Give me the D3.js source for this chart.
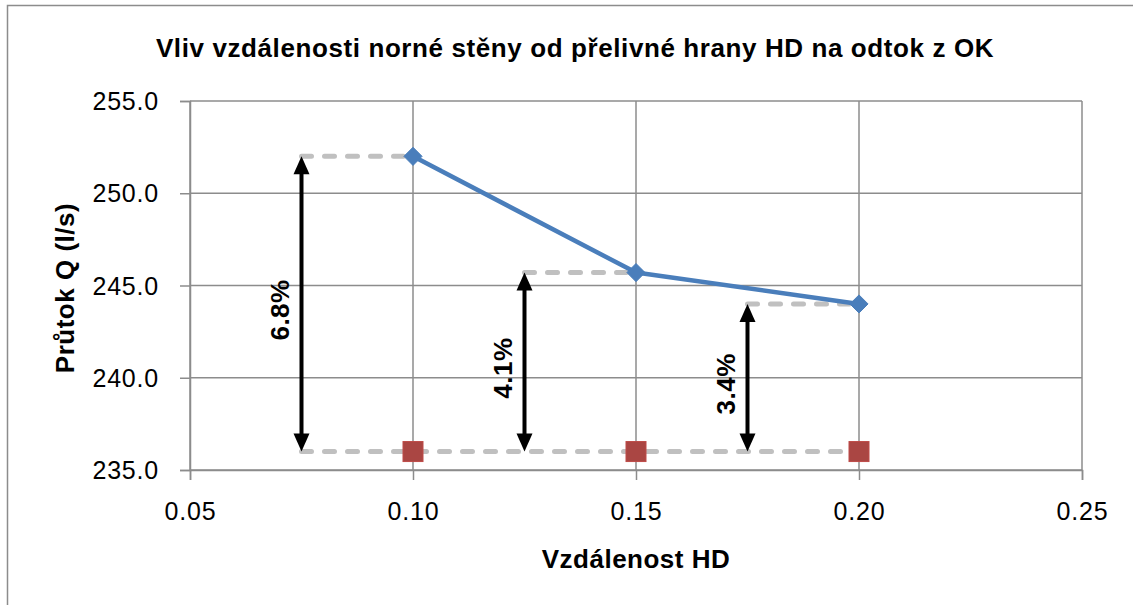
<!DOCTYPE html>
<html>
<head>
<meta charset="utf-8">
<script src="https://cdn.jsdelivr.net/npm/d3@7"></script>
<style>
  html, body { margin: 0; padding: 0; background: #fff; }
  svg { display: block; font-family: "Liberation Sans", Arial, sans-serif; }
</style>
</head>
<body>
<svg id="chart" width="1133" height="605"></svg>
<script>
// Distance of the weir wall from the overflow edge (HD) and resulting discharge
const distances = [0.10, 0.15, 0.20];
const flowMeasured = [252.0, 245.7, 244.0];
const flowReference = [236.0, 236.0, 236.0];
const percentLabels = ["6.8%", "4.1%", "3.4%"];
const xTicks = [0.05, 0.10, 0.15, 0.20, 0.25];
const yTicks = [235, 240, 245, 250, 255];

const titleText = "Vliv vzdálenosti norné stěny od přelivné hrany HD na odtok z OK";
const xTitle = "Vzdálenost HD";
const yTitle = "Průtok Q (l/s)";

const svg = d3.select("#chart");
const plot = { left: 190, top: 101, right: 1082, bottom: 470 };

const x = d3.scaleLinear().domain([0.05, 0.25]).range([plot.left, plot.right]);
const y = d3.scaleLinear().domain([235, 255]).range([plot.bottom, plot.top]);

// outer chart frame
svg.append("rect")
  .attr("x", 7.5).attr("y", 5.5).attr("width", 1140).attr("height", 620)
  .attr("fill", "#fff").attr("stroke", "#8c8c8c").attr("stroke-width", 1.5);

// title
svg.append("text")
  .attr("x", 575).attr("y", 57)
  .attr("text-anchor", "middle")
  .attr("font-size", 26).attr("font-weight", "bold").attr("fill", "#000")
  .attr("letter-spacing", 0.6)
  .text(titleText);

// gridlines
const grid = svg.append("g").attr("stroke", "#8c8c8c").attr("stroke-width", 1.5);
grid.selectAll(".hg").data(yTicks).join("line")
  .attr("x1", plot.left).attr("x2", plot.right)
  .attr("y1", d => y(d)).attr("y2", d => y(d));
grid.selectAll(".vg").data(xTicks).join("line")
  .attr("y1", plot.top).attr("y2", plot.bottom)
  .attr("x1", d => x(d)).attr("x2", d => x(d));

// axes
const yAxis = d3.axisLeft(y).tickValues(yTicks).tickFormat(d3.format(".1f"))
  .tickSize(10).tickPadding(21);
const xAxis = d3.axisBottom(x).tickValues(xTicks).tickFormat(d3.format(".2f"))
  .tickSize(10).tickPadding(22);

const gy = svg.append("g").attr("transform", `translate(${plot.left},0)`).call(yAxis);
const gx = svg.append("g").attr("transform", `translate(0,${plot.bottom})`).call(xAxis);
[gx, gy].forEach(g => {
  g.select(".domain").attr("stroke", "#8c8c8c").attr("stroke-width", 1.5);
  g.selectAll(".tick line").attr("stroke", "#8c8c8c").attr("stroke-width", 1.5);
  g.selectAll(".tick text").attr("font-size", 25).attr("fill", "#000")
    .attr("letter-spacing", 0.8)
    .attr("font-family", "'Liberation Sans', Arial, sans-serif");
});
gy.selectAll(".tick text").attr("dy", "0.34em");

// axis titles
svg.append("text")
  .attr("x", x(0.15)).attr("y", 568)
  .attr("text-anchor", "middle")
  .attr("font-size", 26).attr("font-weight", "bold").attr("letter-spacing", 0.5)
  .text(xTitle);
svg.append("text")
  .attr("transform", `translate(74,288) rotate(-90)`)
  .attr("text-anchor", "middle")
  .attr("font-size", 26).attr("font-weight", "bold").attr("letter-spacing", 0.5)
  .text(yTitle);

// dashed guide lines
const guides = svg.append("g")
  .attr("stroke", "#c0c0c0").attr("stroke-width", 5)
  .attr("stroke-linecap", "round").attr("stroke-dasharray", "10 13")
  .attr("fill", "none");
const arrowX = distances.map(d => d - 0.025);
guides.append("line")
  .attr("x1", x(arrowX[0])).attr("x2", x(distances[2]))
  .attr("y1", y(flowReference[0])).attr("y2", y(flowReference[0]));
distances.forEach((d, i) => {
  guides.append("line")
    .attr("x1", x(arrowX[i])).attr("x2", x(d))
    .attr("y1", y(flowMeasured[i])).attr("y2", y(flowMeasured[i]));
});

// double-headed arrows with percentage increase
const arrows = svg.append("g");
distances.forEach((d, i) => {
  const ax = x(arrowX[i]);
  const yTop = y(flowMeasured[i]);
  const yBot = y(flowReference[i]);
  const head = 18, hw = 8;
  arrows.append("line")
    .attr("x1", ax).attr("x2", ax)
    .attr("y1", yTop + head - 2).attr("y2", yBot - head + 2)
    .attr("stroke", "#000").attr("stroke-width", 4);
  arrows.append("path")
    .attr("d", `M${ax},${yTop} L${ax - hw},${yTop + head} L${ax + hw},${yTop + head} Z`)
    .attr("fill", "#000");
  arrows.append("path")
    .attr("d", `M${ax},${yBot} L${ax - hw},${yBot - head} L${ax + hw},${yBot - head} Z`)
    .attr("fill", "#000");
  const ly = (yTop + yBot) / 2 + 6;
  arrows.append("text")
    .attr("transform", `translate(${ax - 13},${ly}) rotate(-90)`)
    .attr("text-anchor", "middle")
    .attr("font-size", 26).attr("font-weight", "bold").attr("letter-spacing", 0.5)
    .text(percentLabels[i]);
});

// measured series line
svg.append("path")
  .datum(distances.map((d, i) => [d, flowMeasured[i]]))
  .attr("fill", "none").attr("stroke", "#4a7ebb").attr("stroke-width", 4.5)
  .attr("stroke-linejoin", "round")
  .attr("d", d3.line().x(d => x(d[0])).y(d => y(d[1])));

// diamond markers
svg.selectAll(".diamond").data(distances).join("path")
  .attr("transform", (d, i) => `translate(${x(d)},${y(flowMeasured[i])})`)
  .attr("d", d3.symbol().type(d3.symbolDiamond2).size(210))
  .attr("fill", "#4a7ebb").attr("stroke", "#4a7ebb").attr("stroke-width", 1);

// reference squares
svg.selectAll(".square").data(distances).join("rect")
  .attr("x", d => x(d) - 10).attr("y", (d, i) => y(flowReference[i]) - 10)
  .attr("width", 20).attr("height", 20)
  .attr("fill", "#aa4643").attr("stroke", "#be4b48").attr("stroke-width", 1);
</script>
</body>
</html>
